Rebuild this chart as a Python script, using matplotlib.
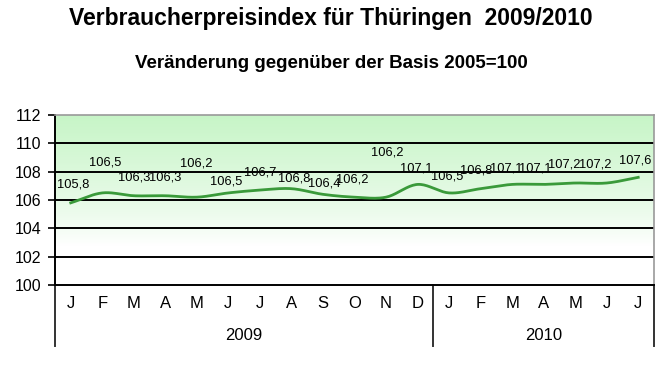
import numpy as np
import matplotlib
matplotlib.use('Agg')
import matplotlib.pyplot as plt
from matplotlib import font_manager

# Daten: Verbraucherpreisindex Thüringen (2005=100)
monate = ['J', 'F', 'M', 'A', 'M', 'J', 'J', 'A', 'S', 'O', 'N', 'D',
          'J', 'F', 'M', 'A', 'M', 'J', 'J']
jahre = ['2009', '2010']
monate_pro_jahr = [12, 7]
index = [105.8, 106.5, 106.3, 106.3, 106.2, 106.5, 106.7, 106.8, 106.4, 106.2, 106.2, 107.1,
         106.5, 106.8, 107.1, 107.1, 107.2, 107.2, 107.6]
y_ticks = [100, 102, 104, 106, 108, 110, 112]

# Abstand der Beschriftung über dem Punkt (Pixel)
label_dy = [18, 30, 18, 18, 34, 11, 18, 10, 11, 18, 45, 16, 16, 18, 16, 16, 18, 18, 17]
label_dx = [2, 3, 0, 0, -1, -2, 0, 3, 1, -2, 1, -1, -2, -4, -6, -8, -11, -11, -3]

fams = [f.name for f in font_manager.fontManager.ttflist]
narrow = 'Liberation Sans Narrow' if 'Liberation Sans Narrow' in fams else 'Liberation Sans'
plt.rcParams['font.family'] = ['Liberation Sans', 'DejaVu Sans']


def catmull_rom(x, y, n=20):
    x = np.asarray(x, float)
    y = np.asarray(y, float)
    px = np.concatenate([[2 * x[0] - x[1]], x, [2 * x[-1] - x[-2]]])
    py = np.concatenate([[2 * y[0] - y[1]], y, [2 * y[-1] - y[-2]]])
    xs, ys = [], []
    t = np.linspace(0, 1, n, endpoint=False)
    for i in range(1, len(px) - 2):
        for p, out in ((px, xs), (py, ys)):
            p0, p1, p2, p3 = p[i - 1], p[i], p[i + 1], p[i + 2]
            out.append(0.5 * ((2 * p1) + (-p0 + p2) * t
                              + (2 * p0 - 5 * p1 + 4 * p2 - p3) * t ** 2
                              + (-p0 + 3 * p1 - 3 * p2 + p3) * t ** 3))
    xs = np.concatenate(xs + [[x[-1]]])
    ys = np.concatenate(ys + [[y[-1]]])
    return xs, ys


fig = plt.figure(figsize=(6.68, 3.73), dpi=100)
ax = fig.add_axes([55 / 668, (373 - 285) / 373, (654 - 55) / 668, 170 / 373])

n = len(monate)
x = np.arange(n) + 0.5
ax.set_xlim(0, n)
ax.set_ylim(100, 112)

# Hintergrundverlauf grün -> weiß
yy = np.linspace(112, 100, 200)
frac = np.clip((yy - 102.8) / (112 - 102.8), 0, 1)
top = np.array([0.78, 0.96, 0.78])
col = 1 - (1 - top)[None, :] * frac[:, None] ** 0.8
ax.imshow(col[:, None, :], extent=[0, n, 100, 112], aspect='auto', zorder=0)

for yt in y_ticks[1:-1]:
    ax.axhline(yt, color='black', lw=1.4, zorder=1)

xs, ys = catmull_rom(x, index)
ax.plot(xs, ys, color='#3a9a3a', lw=2, zorder=3)

for xi, v, dy, dx in zip(x, index, label_dy, label_dx):
    ax.annotate(f'{v:.1f}'.replace('.', ','), (xi, v), xytext=(dx * 0.72, dy * 0.72),
                textcoords='offset points', ha='center', va='center', fontsize=9.3, zorder=4)

for s in ['top', 'right']:
    ax.spines[s].set_color('#999999')
    ax.spines[s].set_linewidth(1.2)
ax.spines['left'].set_linewidth(1.4)
ax.spines['bottom'].set_linewidth(1.4)

ax.set_yticks(y_ticks)
ax.set_yticklabels([str(t) for t in y_ticks], fontsize=11.5)
ax.tick_params(axis='y', length=5, width=1.2, direction='out', pad=5)
ax.set_xticks([])

# Kategorienachse: Monate und Jahre
trans = ax.get_xaxis_transform()
for xi, m in zip(x, monate):
    ax.text(xi, -0.11, m, transform=trans, ha='center', va='center', fontsize=12)
start = 0
for jahr, k in zip(jahre, monate_pro_jahr):
    ax.text(start + k / 2, -0.295, jahr, transform=trans, ha='center', va='center', fontsize=12)
    start += k
grenzen = np.concatenate([[0], np.cumsum(monate_pro_jahr)])
for g in grenzen:
    ax.plot([g, g], [0, -0.36], transform=trans, color='#333333', lw=1.4, clip_on=False)

fig.text(331 / 668, 1 - 19 / 373, 'Verbraucherpreisindex für Thüringen  2009/2010',
         ha='center', va='center', fontsize=16.5, fontweight='bold')
fig.text(331 / 668, 1 - 63 / 373, 'Veränderung gegenüber der Basis 2005=100',
         ha='center', va='center', fontsize=13.5, fontweight='bold', family=[narrow, 'DejaVu Sans'])

fig.savefig('out.png', dpi=100)
